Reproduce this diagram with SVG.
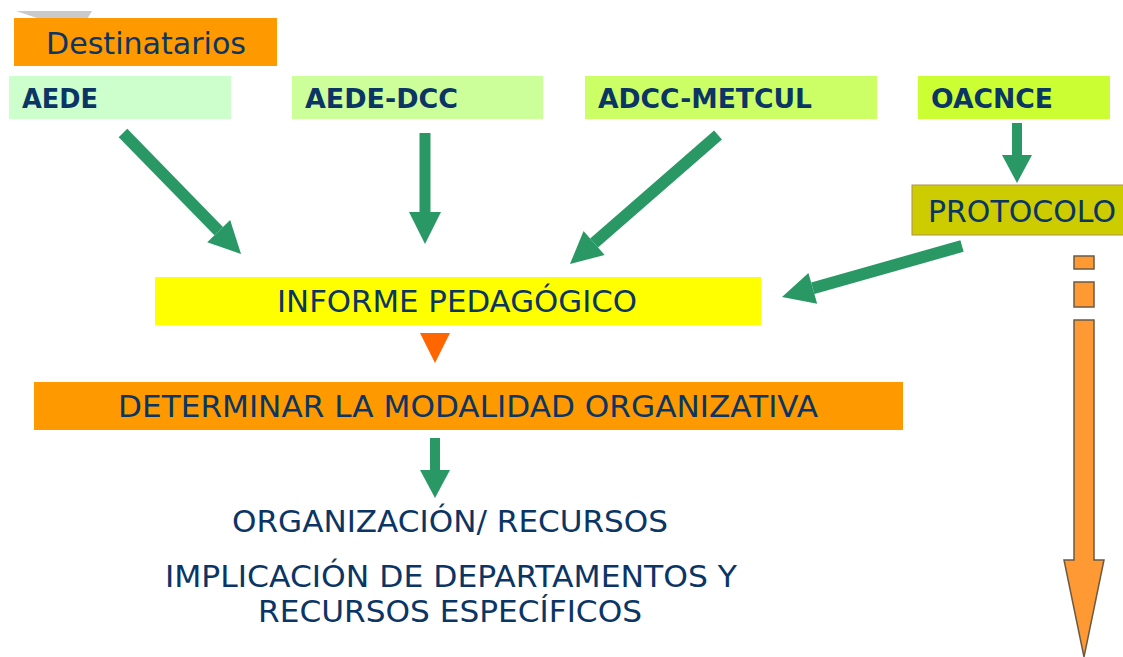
<svg xmlns="http://www.w3.org/2000/svg" width="1123" height="657" viewBox="0 0 1123 657">
<defs>
<style>
.t{font-family:"DejaVu Sans",Verdana,sans-serif;fill:#0A3565;font-size:30px}
.b{font-family:"DejaVu Sans",Verdana,sans-serif;fill:#0A3565;font-size:26px;font-weight:bold}
.g{stroke:#2A9865;fill:none}
.o{fill:#FF9933;stroke:#6B5A44;stroke-width:1.5}
</style>
<marker id="hd" markerUnits="userSpaceOnUse" orient="auto" markerWidth="40" markerHeight="40" refX="0" refY="0" viewBox="0 -20 40 40" overflow="visible">
<path d="M0,-16 L32,0 L0,16 z" fill="#2A9865"/>
</marker>
<marker id="hs" markerUnits="userSpaceOnUse" orient="auto" markerWidth="40" markerHeight="40" refX="0" refY="0" viewBox="0 -20 40 40" overflow="visible">
<path d="M0,-15 L28,0 L0,15 z" fill="#2A9865"/>
</marker>
</defs>
<rect width="1123" height="657" fill="#FFFFFF"/>
<path d="M16,11 L92,11 L86,21 L40,19 Z" fill="#BDBDBD" opacity="0.8"/>

<g id="destinatarios">
<rect x="14" y="18" width="263" height="48" fill="#FF9900"/>
<text class="t" x="46" y="54" textLength="200" lengthAdjust="spacingAndGlyphs">Destinatarios</text>
</g>
<g id="aede">
<rect x="9" y="76" width="222" height="43" fill="#CCFFCC"/>
<text class="b" x="22" y="108" textLength="76" lengthAdjust="spacingAndGlyphs">AEDE</text>
</g>
<g id="aede-dcc">
<rect x="292" y="76" width="251" height="43" fill="#CCFF99"/>
<text class="b" x="305" y="108" textLength="153" lengthAdjust="spacingAndGlyphs">AEDE-DCC</text>
</g>
<g id="adcc-metcul">
<rect x="585" y="76" width="292" height="43" fill="#CCFF66"/>
<text class="b" x="598" y="108" textLength="214" lengthAdjust="spacingAndGlyphs">ADCC-METCUL</text>
</g>
<g id="oacnce">
<rect x="918" y="76" width="192" height="43" fill="#CCFF33"/>
<text class="b" x="931" y="108" textLength="122" lengthAdjust="spacingAndGlyphs">OACNCE</text>
</g>
<g id="protocolo">
<rect x="912" y="185" width="214" height="50" fill="#CCCC00" stroke="#B09050" stroke-width="1"/>
<text class="t" x="928" y="222" textLength="188" lengthAdjust="spacingAndGlyphs">PROTOCOLO</text>
</g>
<g id="informe">
<rect x="155" y="277" width="606" height="48" fill="#FFFF00"/>
<text class="t" x="277" y="312" textLength="360" lengthAdjust="spacingAndGlyphs">INFORME PEDAGÓGICO</text>
</g>
<g id="determinar">
<rect x="34" y="382" width="869" height="48" fill="#FF9900"/>
<text class="t" x="118" y="417" textLength="700" lengthAdjust="spacingAndGlyphs">DETERMINAR LA MODALIDAD ORGANIZATIVA</text>
</g>
<g id="organizacion">
<text class="t" x="232" y="532" textLength="436" lengthAdjust="spacingAndGlyphs">ORGANIZACIÓN/ RECURSOS</text>
</g>
<g id="implicacion">
<text class="t" x="165" y="587" textLength="572" lengthAdjust="spacingAndGlyphs">IMPLICACIÓN DE DEPARTAMENTOS Y</text>
<text class="t" x="258" y="622" textLength="384" lengthAdjust="spacingAndGlyphs">RECURSOS ESPECÍFICOS</text>
</g>

<g id="connectors">
<line class="g" stroke-width="12" x1="123" y1="133" x2="218.7" y2="231.1" marker-end="url(#hd)"/>
<line class="g" stroke-width="11" x1="425" y1="133" x2="425" y2="212" marker-end="url(#hd)"/>
<line class="g" stroke-width="12" x1="718" y1="135" x2="594.1" y2="243" marker-end="url(#hd)"/>
<line class="g" stroke-width="12" x1="962" y1="246" x2="812.8" y2="288.3" marker-end="url(#hd)"/>
<line class="g" stroke-width="10" x1="1017" y1="123" x2="1017" y2="155" marker-end="url(#hs)"/>
<line class="g" stroke-width="10" x1="435" y1="438" x2="435" y2="470" marker-end="url(#hs)"/>
<path d="M420,333 L450,333 L435,363 Z" fill="#FF6600"/>
<rect class="o" x="1074" y="256" width="20" height="13"/>
<rect class="o" x="1074" y="282" width="20" height="25"/>
<path class="o" d="M1074,320 L1094,320 L1094,560 L1104,560 L1084,657 L1064,560 L1074,560 Z"/>
</g>
</svg>
